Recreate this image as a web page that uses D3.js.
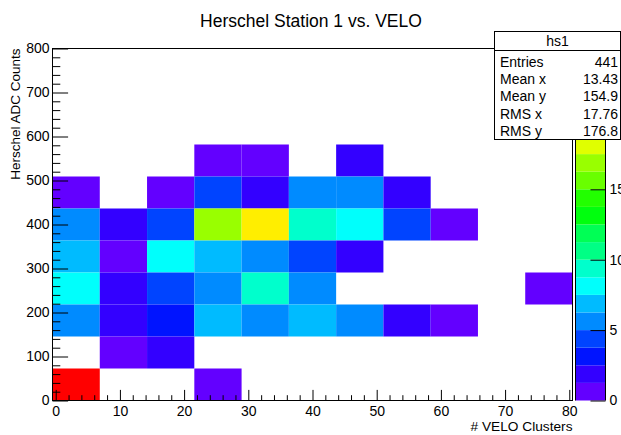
<!DOCTYPE html>
<html>
<head>
<meta charset="utf-8">
<script src="https://cdn.jsdelivr.net/npm/d3@7"></script>
<style>
    body { margin: 0; background: #fff; }
    svg { display: block; font-family: "Liberation Sans", Arial, Helvetica, sans-serif; }
    .axis path.domain { display: none; }
    .axis line { stroke: #000; stroke-width: 1; }
    .axis text { font-size: 14px; fill: #000; }
</style>
</head>
<body>
<div class="gv-chart"></div>
<script>
// histogram binning (11 x 11 bins)
var xRange = [-0.5, 80.5];
var yRange = [0, 800];
var zRange = [0, 25];

// bin contents, rows listed from the top y bin (10) down to y bin 0
var counts = [
    [0, 0, 0, 0, 0, 0, 0, 0, 0, 0, 0],
    [0, 0, 0, 0, 0, 0, 0, 0, 0, 0, 0],
    [0, 0, 0, 0, 0, 0, 0, 0, 0, 0, 0],
    [0, 0, 0, 1, 1, 0, 2, 0, 0, 0, 0],
    [1, 0, 1, 4, 2, 5, 5, 2, 0, 0, 0],
    [5, 2, 4, 17, 19, 9, 8, 4, 1, 0, 0],
    [7, 1, 8, 7, 5, 4, 2, 0, 0, 0, 0],
    [8, 2, 4, 5, 9, 5, 0, 0, 0, 0, 1],
    [5, 2, 3, 7, 5, 7, 5, 2, 1, 0, 0],
    [0, 1, 2, 0, 0, 0, 0, 0, 0, 0, 0],
    [239, 0, 0, 1, 0, 0, 0, 0, 0, 0, 0]
];

var xTicks = [0, 10, 20, 30, 40, 50, 60, 70, 80];
var yTicks = [0, 100, 200, 300, 400, 500, 600, 700, 800];
// 20 and 25 sit behind the stats box, so only these show
var zTicks = [0, 5, 10, 15];

var statName = "hs1";
var statLabels = ["Entries", "Mean x", "Mean y", "RMS x", "RMS y"];
var statValues = ["441", "13.43", "154.9", "17.76", "176.8"];

var title = "Herschel Station 1 vs. VELO";
var xTitle = "# VELO Clusters";
var yTitle = "Herschel ADC Counts";

var width = 621, height = 435;
var nContours = 20, nColors = 50;

var svg = d3.select(".gv-chart").append("svg").attr("width", width).attr("height", height);

var x = d3.scaleLinear().domain(xRange).range([52.5, 572.5]);
var y = d3.scaleLinear().domain(yRange).range([400.5, 48.5]);
var z = d3.scaleLinear().domain(zRange).range([400.5, 48.5]);

var nx = counts[0].length, ny = counts.length;
var dx = (xRange[1] - xRange[0]) / nx;
var dy = (yRange[1] - yRange[0]) / ny;

// ROOT "pretty" palette: 50 hues from violet to red, picked by contour level
function levelColour(level) {
    var idx = Math.min(nColors - 1, Math.floor((level + 0.99) * nColors / nContours));
    var hue = 280 - (idx + 1) * (280 / nColors);
    return d3.hsl(hue, 1, 0.5).toString();
}
function binColour(v) {
    var level = Math.floor(0.01 + (v - zRange[0]) * nContours / (zRange[1] - zRange[0]));
    return levelColour(level);
}

var cells = [];
counts.forEach((row, r) => {
    row.forEach((v, c) => {
        if (v > 0) cells.push({ ix: c, iy: ny - 1 - r, v: v });
    })
})

svg.append("g").selectAll("rect")
    .data(cells)
    .enter()
    .append("rect")
    .attr("x", d => x(xRange[0] + d.ix * dx))
    .attr("y", d => y(yRange[0] + (d.iy + 1) * dy))
    .attr("width", d => x(xRange[0] + (d.ix + 1) * dx) - x(xRange[0] + d.ix * dx))
    .attr("height", d => y(yRange[0] + d.iy * dy) - y(yRange[0] + (d.iy + 1) * dy))
    .attr("fill", d => binColour(d.v))

// x axis: majors every 10, minors every 2
svg.append("g").attr("class", "axis")
    .attr("transform", "translate(0,400.5)")
    .call(d3.axisBottom(x).tickValues(d3.range(0, 81, 2).filter(v => v % 10 !== 0)).tickSize(-5.3).tickFormat(""))
svg.append("g").attr("class", "axis")
    .attr("transform", "translate(0,400.5)")
    .call(d3.axisBottom(x).tickValues(xTicks).tickSize(-10.6).tickPadding(6).tickFormat(d3.format("d")))

// y axis: majors every 100, minors every 20
svg.append("g").attr("class", "axis")
    .attr("transform", "translate(52.5,0)")
    .call(d3.axisLeft(y).tickValues(d3.range(0, 801, 20).filter(v => v % 100 !== 0)).tickSize(-7.8).tickFormat(""))
svg.append("g").attr("class", "axis")
    .attr("transform", "translate(52.5,0)")
    .call(d3.axisLeft(y).tickValues(yTicks).tickSize(-15.6).tickPadding(3).tickFormat(d3.format("d")))

// frame
svg.append("rect")
    .attr("x", 52.5).attr("y", 48.5)
    .attr("width", 520).attr("height", 352)
    .attr("fill", "none").attr("stroke", "#000").attr("stroke-width", 1)

// colour palette bar
var bandStep = (zRange[1] - zRange[0]) / nContours;
svg.append("g").selectAll("rect")
    .data(d3.range(nContours))
    .enter()
    .append("rect")
    .attr("x", 575.5)
    .attr("y", k => z((k + 1) * bandStep))
    .attr("width", 30)
    .attr("height", k => z(k * bandStep) - z((k + 1) * bandStep))
    .attr("fill", k => levelColour(k))

svg.append("line").attr("x1", 575.5).attr("x2", 575.5).attr("y1", 48.5).attr("y2", 400.5).attr("stroke", "#000")
svg.append("g").attr("class", "axis")
    .attr("transform", "translate(605.5,0)")
    .call(d3.axisRight(z).tickValues(zTicks).tickSize(-15).tickPadding(4).tickFormat(d3.format("d")))
svg.append("line").attr("x1", 605.5).attr("x2", 605.5).attr("y1", 48.5).attr("y2", 400.5).attr("stroke", "#000")

// titles
svg.append("text")
    .attr("x", 311).attr("y", 27)
    .attr("text-anchor", "middle")
    .style("font-size", "17.5px")
    .text(title)

svg.append("text")
    .attr("x", 572.5).attr("y", 431)
    .attr("text-anchor", "end")
    .style("font-size", "13.7px")
    .text(xTitle)

svg.append("text")
    .attr("transform", "translate(20,48.5) rotate(-90)")
    .attr("text-anchor", "end")
    .style("font-size", "13.5px")
    .text(yTitle)

// stats box
var stats = svg.append("g")
stats.append("rect")
    .attr("x", 494.5).attr("y", 31.5)
    .attr("width", 126).attr("height", 108)
    .attr("fill", "#fff").attr("stroke", "#000")
stats.append("line")
    .attr("x1", 494.5).attr("x2", 620.5).attr("y1", 50.5).attr("y2", 50.5)
    .attr("stroke", "#000")
stats.append("text")
    .attr("x", 557.5).attr("y", 46)
    .attr("text-anchor", "middle")
    .style("font-size", "14px")
    .text(statName)

statLabels.map((s, i) => {
    var by = 66.5 + i * 17.4;
    stats.append("text").attr("x", 500).attr("y", by).style("font-size", "14px").text(s)
    stats.append("text").attr("x", 618).attr("y", by).attr("text-anchor", "end").style("font-size", "14px").text(statValues[i])
})
</script>
</body>
</html>
